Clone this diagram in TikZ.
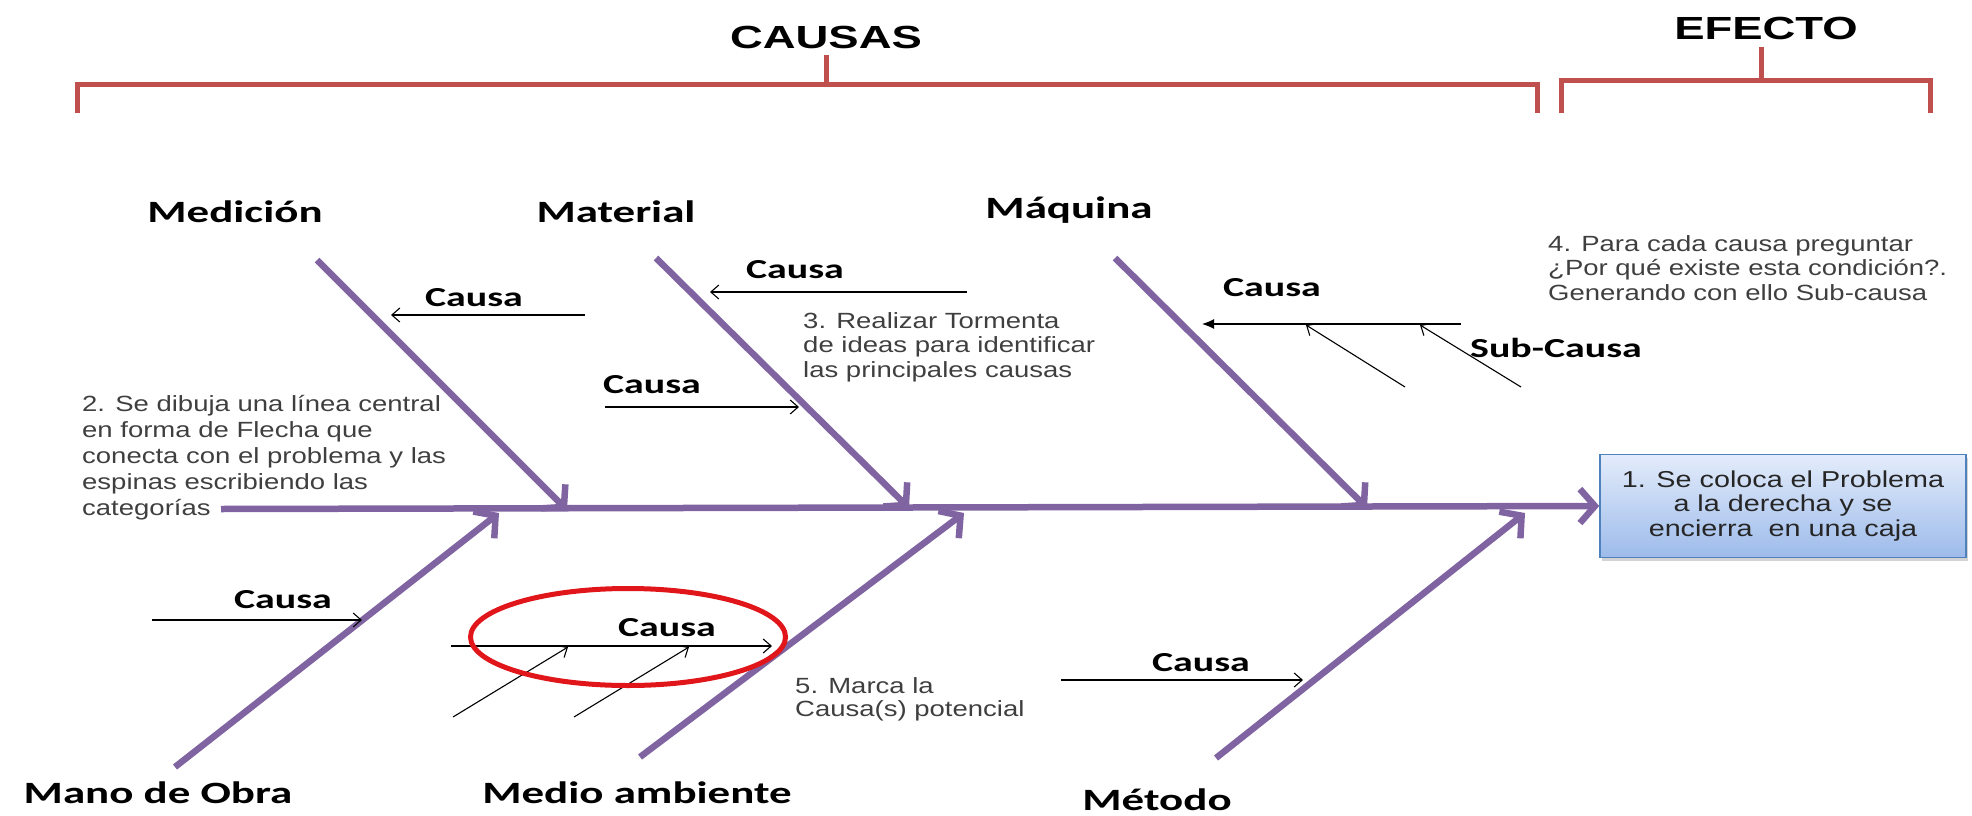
\documentclass[tikz,border=0pt]{standalone}
\usepackage{fontspec}
\setmainfont{Liberation Sans}
\newfontfamily\capfont[FakeStretch=1.45]{Carlito}
\newfontfamily\notefont[FakeStretch=1.25]{Liberation Sans}
\newfontfamily\headfont[FakeStretch=1.42]{Liberation Sans}
\usetikzlibrary{arrows.meta,shapes.geometric,shadows}
\definecolor{fishpurple}{HTML}{8064A2}
\definecolor{bracketred}{HTML}{C0504D}
\definecolor{markred}{HTML}{E0161B}
\definecolor{boxedge}{HTML}{4F81BD}
\definecolor{boxtop}{HTML}{E3ECFB}
\definecolor{boxbot}{HTML}{9DBBEA}
\definecolor{notegray}{HTML}{3F3F3F}

\begin{document}
\begin{tikzpicture}[x=1pt,y=-1pt,
  rib/.style={fishpurple, line width=6.5pt, -{Straight Barb[length=15pt,width=34pt]}},
  cause/.style={black, line width=1.1pt, -{Straight Barb[length=8pt,width=14pt]}},
  brace/.style={bracketred, line width=5pt},
  head/.style={font=\headfont\bfseries\fontsize{32}{32}\selectfont},
  cat/.style={font=\capfont\bfseries\fontsize{31}{31}\selectfont},
  lbl/.style={font=\capfont\bfseries\fontsize{27.5}{27.5}\selectfont},
  note/.style={align=left, text=notegray, inner sep=0pt, font=\notefont\fontsize{22}{24.5}\selectfont},
  probbox/.style={draw=boxedge, line width=1.5pt, top color=boxtop, bottom color=boxbot,
    minimum width=366pt, minimum height=103pt, align=center, text=black!85,
    font=\notefont\fontsize{23}{24.5}\selectfont,
    drop shadow={shadow xshift=2pt, shadow yshift=-3pt, opacity=0.35}}]
\useasboundingbox (0,0) rectangle (1972,816);

% brackets
\node[head] (causas) at (826,37) {CAUSAS};
\node[head] (efecto) at (1766,28) {EFECTO};
\coordinate (cmid) at (826,84);
\coordinate (emid) at (1761,80);
\draw[brace] (77,113) -- (77,84) -- (1537,84) -- (1537,113);
\draw[brace] (1561,113) -- (1561,80) -- (1930,80) -- (1930,113);
\draw[brace] (cmid) -- ++(0,-29);
\draw[brace] (emid) -- ++(0,-33);

% problem and spine
\node[probbox] (prob) at (1783,506) {1. Se coloca el Problema\\a la derecha y se\\encierra \ en una caja};
\coordinate (tail) at (221,509);
\draw[rib] (tail) -- (prob.west);

% ribs
\node[cat] (medicion) at (235,212) {Medición};
\node[cat] (material) at (616,212) {Material};
\node[cat] (maquina) at (1069,210) {Máquina};
\node[cat] (obra) at (158,793) {Mano de Obra};
\node[cat] (ambiente) at (637,793) {Medio ambiente};
\node[cat] (metodo) at (1157,800) {Método};
\coordinate (medA) at (317,260);   \coordinate (medB) at (567,510);
\coordinate (matA) at (656,258);   \coordinate (matB) at (909,508);
\coordinate (maqA) at (1115,258);  \coordinate (maqB) at (1367,508);
\coordinate (obrA) at (175,767);   \coordinate (obrB) at (499,513);
\coordinate (ambA) at (640,757);   \coordinate (ambB) at (964,513);
\coordinate (metA) at (1216,758);  \coordinate (metB) at (1525,513);
\draw[rib] (medA) -- (medB);
\draw[rib] (matA) -- (matB);
\draw[rib] (maqA) -- (maqB);
\draw[rib] (obrA) -- (obrB);
\draw[rib] (ambA) -- (ambB);
\draw[rib] (metA) -- (metB);

% causes
\node[lbl] (causa1) at (474,298) {Causa};
\node[lbl] (causa2) at (652,385) {Causa};
\node[lbl] (causa3) at (795,270) {Causa};
\node[lbl] (causa4) at (1272,288) {Causa};
\node[lbl] (subcausa) at (1556,348) {Sub-Causa};
\node[lbl] (causa5) at (283,600) {Causa};
\node[lbl] (causa6) at (667,628) {Causa};
\node[lbl] (causa7) at (1201,663) {Causa};
\coordinate (c1a) at (585,315);   \coordinate (c1b) at (391,315);
\coordinate (c2a) at (605,407);   \coordinate (c2b) at (799,407);
\coordinate (c3a) at (967,292);   \coordinate (c3b) at (710,292);
\coordinate (c4a) at (1461,324);  \coordinate (c4b) at (1202,324);
\coordinate (s1a) at (1405,387);  \coordinate (s1b) at (1306,325);
\coordinate (s2a) at (1521,387);  \coordinate (s2b) at (1420,325);
\coordinate (c5a) at (152,620);   \coordinate (c5b) at (362,620);
\coordinate (c6a) at (451,646);   \coordinate (c6b) at (772,646);
\coordinate (s3a) at (453,717);   \coordinate (s3b) at (568,647);
\coordinate (s4a) at (574,717);   \coordinate (s4b) at (689,647);
\coordinate (c7a) at (1061,680);  \coordinate (c7b) at (1303,680);
\draw[cause] (c1a) -- (c1b);
\draw[cause] (c2a) -- (c2b);
\draw[cause] (c3a) -- (c3b);
\draw[black, line width=1.1pt, -{Latex[length=12pt,width=10pt]}] (c4a) -- (c4b);
\draw[cause] (s1a) -- (s1b);
\draw[cause] (s2a) -- (s2b);
\draw[cause] (c5a) -- (c5b);
\draw[cause] (c6a) -- (c6b);
\draw[cause] (s3a) -- (s3b);
\draw[cause] (s4a) -- (s4b);
\draw[cause] (c7a) -- (c7b);
\node[draw=markred, line width=5pt, ellipse, minimum width=315pt, minimum height=97pt] (marca) at (628,637) {};

% notes
\node[note, anchor=west, font=\notefont\fontsize{22}{26}\selectfont] (paso2) at (82,458) {2. Se dibuja una línea central\\en forma de Flecha que\\conecta con el problema y las\\espinas escribiendo las\\categorías};
\node[note, anchor=west] (paso3) at (803,347) {3. Realizar Tormenta\\de ideas para identificar\\las principales causas};
\node[note, anchor=west] (paso4) at (1548,268) {4. Para cada causa preguntar\\¿Por qué existe esta condición?.\\Generando con ello Sub-causa};
\node[note, anchor=west, font=\notefont\fontsize{22}{23}\selectfont] (paso5) at (795,699) {5. Marca la\\Causa(s) potencial};
\end{tikzpicture}
\end{document}
